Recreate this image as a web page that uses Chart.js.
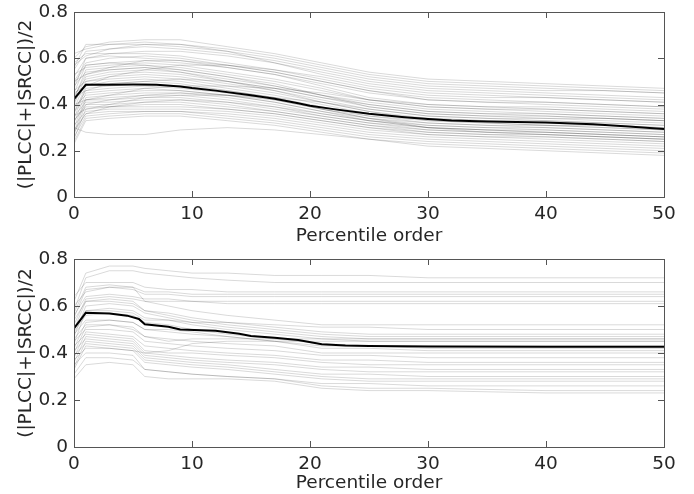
<!DOCTYPE html>
<html>
<head>
<meta charset="UTF-8">
<title>Percentile order</title>
<style>
  body { margin: 0; background: #fff; }
  canvas { display: block; }
</style>
</head>
<body>
<canvas id="top" width="694" height="247"></canvas>
<canvas id="bottom" width="694" height="247"></canvas>
<script src="https://cdn.jsdelivr.net/npm/chart.js"></script>
<script>
const xTop = [0, 1, 3, 6, 9, 13, 17, 21, 25, 30, 35, 40, 45, 50];
const curvesTop = [
  [0.60,0.65,0.67,0.68,0.68,0.65,0.62,0.58,0.54,0.51,0.50,0.49,0.48,0.47],
  [0.62,0.64,0.66,0.67,0.66,0.64,0.61,0.57,0.53,0.50,0.49,0.48,0.47,0.46],
  [0.55,0.63,0.64,0.65,0.64,0.62,0.59,0.55,0.51,0.48,0.47,0.46,0.46,0.45],
  [0.52,0.60,0.62,0.63,0.63,0.61,0.58,0.54,0.50,0.47,0.46,0.45,0.44,0.43],
  [0.58,0.62,0.62,0.62,0.61,0.58,0.55,0.51,0.47,0.44,0.43,0.43,0.42,0.41],
  [0.50,0.58,0.60,0.61,0.60,0.57,0.54,0.50,0.46,0.43,0.42,0.41,0.40,0.39],
  [0.47,0.60,0.61,0.60,0.59,0.56,0.53,0.49,0.45,0.42,0.41,0.40,0.39,0.38],
  [0.45,0.57,0.58,0.59,0.58,0.56,0.53,0.48,0.43,0.40,0.39,0.39,0.38,0.37],
  [0.53,0.56,0.57,0.58,0.57,0.54,0.51,0.47,0.42,0.39,0.38,0.38,0.37,0.36],
  [0.42,0.55,0.56,0.57,0.56,0.53,0.50,0.46,0.42,0.39,0.38,0.37,0.36,0.35],
  [0.48,0.54,0.55,0.56,0.55,0.52,0.49,0.44,0.40,0.37,0.36,0.36,0.35,0.34],
  [0.40,0.52,0.54,0.55,0.54,0.51,0.48,0.44,0.39,0.36,0.35,0.35,0.34,0.33],
  [0.44,0.51,0.53,0.54,0.53,0.50,0.47,0.43,0.39,0.36,0.35,0.34,0.34,0.33],
  [0.38,0.50,0.52,0.53,0.52,0.49,0.46,0.42,0.38,0.35,0.34,0.34,0.33,0.32],
  [0.46,0.50,0.51,0.52,0.51,0.48,0.45,0.41,0.37,0.34,0.33,0.33,0.32,0.31],
  [0.36,0.48,0.50,0.51,0.50,0.47,0.44,0.40,0.36,0.34,0.33,0.32,0.31,0.30],
  [0.41,0.49,0.49,0.50,0.49,0.46,0.43,0.39,0.35,0.33,0.32,0.31,0.31,0.30],
  [0.34,0.47,0.48,0.49,0.48,0.46,0.43,0.38,0.35,0.32,0.31,0.31,0.30,0.29],
  [0.43,0.46,0.47,0.48,0.47,0.45,0.42,0.38,0.34,0.32,0.31,0.30,0.29,0.28],
  [0.32,0.45,0.46,0.47,0.46,0.44,0.41,0.37,0.34,0.31,0.30,0.30,0.29,0.28],
  [0.39,0.44,0.45,0.46,0.46,0.44,0.41,0.37,0.33,0.31,0.30,0.29,0.28,0.27],
  [0.30,0.43,0.44,0.45,0.45,0.43,0.40,0.36,0.33,0.30,0.29,0.29,0.28,0.27],
  [0.37,0.42,0.43,0.44,0.44,0.42,0.39,0.35,0.32,0.30,0.29,0.28,0.27,0.26],
  [0.28,0.42,0.42,0.43,0.43,0.41,0.38,0.35,0.32,0.29,0.28,0.28,0.27,0.26],
  [0.35,0.41,0.41,0.42,0.42,0.40,0.37,0.34,0.31,0.29,0.28,0.27,0.26,0.25],
  [0.27,0.40,0.40,0.41,0.41,0.39,0.37,0.34,0.31,0.28,0.27,0.27,0.26,0.25],
  [0.33,0.39,0.39,0.40,0.40,0.38,0.36,0.33,0.30,0.28,0.27,0.26,0.25,0.24],
  [0.25,0.38,0.39,0.39,0.39,0.38,0.36,0.33,0.30,0.27,0.26,0.26,0.25,0.24],
  [0.31,0.37,0.38,0.38,0.38,0.37,0.35,0.32,0.29,0.27,0.26,0.25,0.24,0.23],
  [0.29,0.36,0.37,0.37,0.37,0.36,0.34,0.31,0.28,0.26,0.25,0.24,0.23,0.22],
  [0.26,0.35,0.36,0.37,0.37,0.35,0.33,0.30,0.27,0.25,0.24,0.23,0.22,0.21],
  [0.24,0.34,0.35,0.36,0.36,0.34,0.32,0.29,0.26,0.24,0.23,0.22,0.21,0.20],
  [0.23,0.33,0.34,0.35,0.35,0.33,0.31,0.28,0.25,0.23,0.22,0.21,0.20,0.19],
  [0.30,0.28,0.27,0.27,0.29,0.30,0.29,0.27,0.25,0.22,0.21,0.20,0.19,0.18],
  [0.40,0.42,0.44,0.47,0.48,0.48,0.47,0.45,0.42,0.40,0.39,0.38,0.37,0.36],
  [0.45,0.48,0.52,0.55,0.57,0.57,0.55,0.52,0.48,0.45,0.44,0.43,0.42,0.41],
  [0.56,0.66,0.66,0.66,0.65,0.63,0.60,0.56,0.52,0.49,0.48,0.47,0.46,0.45],
  [0.35,0.38,0.40,0.43,0.44,0.44,0.43,0.41,0.38,0.35,0.34,0.33,0.32,0.31],
  [0.50,0.53,0.56,0.59,0.59,0.57,0.54,0.50,0.46,0.42,0.41,0.41,0.40,0.39],
  [0.33,0.40,0.42,0.44,0.45,0.44,0.42,0.38,0.34,0.30,0.28,0.27,0.26,0.25],
  [0.57,0.61,0.64,0.66,0.66,0.63,0.58,0.53,0.49,0.46,0.45,0.44,0.43,0.42],
  [0.37,0.46,0.49,0.50,0.51,0.50,0.47,0.43,0.40,0.37,0.36,0.35,0.34,0.33],
  [0.28,0.36,0.39,0.41,0.42,0.41,0.39,0.36,0.33,0.30,0.29,0.28,0.27,0.26],
  [0.49,0.57,0.58,0.57,0.55,0.52,0.48,0.44,0.41,0.38,0.37,0.36,0.35,0.34],
  [0.43,0.53,0.55,0.56,0.54,0.50,0.46,0.41,0.37,0.33,0.32,0.31,0.30,0.29]
];
const meanXTop = [0, 1, 3, 5, 7, 9, 10, 12, 15, 17, 19, 20, 22, 25, 28, 30, 32, 35, 40, 44, 47, 50];
const meanTop  = [0.423,0.485,0.485,0.486,0.485,0.478,0.471,0.46,0.44,0.425,0.405,0.395,0.38,0.36,0.345,0.337,0.331,0.327,0.322,0.315,0.305,0.294];

const xBottom = [0, 1, 3, 5, 6, 8, 10, 13, 17, 21, 25, 30, 40, 50];
const curvesBottom = [
  [0.62,0.74,0.77,0.77,0.76,0.75,0.74,0.74,0.73,0.73,0.73,0.72,0.72,0.72],
  [0.58,0.72,0.75,0.75,0.74,0.73,0.72,0.71,0.70,0.70,0.70,0.70,0.70,0.70],
  [0.55,0.67,0.68,0.68,0.66,0.66,0.65,0.65,0.65,0.65,0.65,0.65,0.65,0.65],
  [0.60,0.66,0.68,0.67,0.65,0.65,0.64,0.64,0.64,0.64,0.64,0.64,0.64,0.64],
  [0.52,0.63,0.64,0.63,0.62,0.62,0.62,0.61,0.61,0.61,0.61,0.61,0.61,0.61],
  [0.57,0.68,0.69,0.68,0.62,0.60,0.58,0.56,0.54,0.52,0.52,0.52,0.52,0.52],
  [0.50,0.62,0.63,0.62,0.58,0.57,0.55,0.53,0.51,0.49,0.48,0.48,0.48,0.48],
  [0.54,0.62,0.62,0.61,0.58,0.56,0.54,0.52,0.50,0.48,0.47,0.47,0.47,0.47],
  [0.47,0.60,0.61,0.60,0.57,0.55,0.53,0.51,0.49,0.47,0.46,0.46,0.46,0.46],
  [0.44,0.58,0.59,0.58,0.55,0.54,0.52,0.50,0.48,0.46,0.45,0.45,0.45,0.45],
  [0.49,0.56,0.57,0.56,0.53,0.52,0.50,0.48,0.46,0.44,0.43,0.43,0.43,0.43],
  [0.42,0.53,0.54,0.53,0.50,0.50,0.49,0.47,0.45,0.42,0.42,0.41,0.41,0.41],
  [0.40,0.51,0.52,0.50,0.47,0.46,0.45,0.44,0.43,0.40,0.40,0.40,0.40,0.40],
  [0.45,0.50,0.50,0.49,0.45,0.44,0.43,0.42,0.41,0.39,0.39,0.38,0.38,0.38],
  [0.38,0.49,0.48,0.47,0.43,0.42,0.41,0.40,0.39,0.37,0.37,0.36,0.36,0.36],
  [0.43,0.48,0.47,0.46,0.41,0.40,0.40,0.39,0.38,0.36,0.35,0.35,0.35,0.35],
  [0.36,0.47,0.46,0.45,0.40,0.39,0.38,0.37,0.36,0.34,0.34,0.33,0.33,0.33],
  [0.41,0.46,0.45,0.44,0.39,0.38,0.37,0.36,0.35,0.33,0.32,0.32,0.32,0.32],
  [0.34,0.45,0.44,0.43,0.38,0.37,0.36,0.35,0.33,0.31,0.31,0.30,0.30,0.30],
  [0.39,0.44,0.43,0.42,0.37,0.36,0.35,0.34,0.32,0.30,0.29,0.29,0.29,0.29],
  [0.33,0.43,0.42,0.41,0.36,0.35,0.34,0.33,0.31,0.29,0.28,0.28,0.28,0.28],
  [0.29,0.35,0.36,0.35,0.30,0.29,0.29,0.29,0.28,0.25,0.24,0.24,0.23,0.23],
  [0.35,0.40,0.40,0.39,0.33,0.32,0.31,0.30,0.29,0.26,0.25,0.25,0.24,0.24],
  [0.37,0.42,0.42,0.41,0.40,0.41,0.44,0.45,0.45,0.45,0.45,0.45,0.45,0.45],
  [0.46,0.52,0.52,0.51,0.47,0.45,0.46,0.46,0.46,0.46,0.46,0.46,0.46,0.46],
  [0.56,0.64,0.65,0.64,0.63,0.63,0.62,0.62,0.62,0.62,0.62,0.62,0.62,0.62],
  [0.51,0.58,0.58,0.57,0.54,0.54,0.53,0.53,0.52,0.51,0.51,0.50,0.50,0.50],
  [0.48,0.54,0.54,0.53,0.50,0.49,0.48,0.47,0.45,0.43,0.43,0.42,0.42,0.42],
  [0.31,0.38,0.38,0.37,0.33,0.32,0.31,0.30,0.29,0.27,0.27,0.26,0.26,0.26],
  [0.64,0.70,0.70,0.70,0.68,0.67,0.67,0.66,0.66,0.66,0.66,0.66,0.66,0.66]
];
const meanXBottom = [0, 1, 3, 4.5, 5.5, 6, 8, 9, 12, 14, 15, 17, 19, 21, 23, 25, 30, 40, 50];
const meanBottom  = [0.505,0.571,0.568,0.559,0.545,0.522,0.512,0.5,0.495,0.482,0.472,0.465,0.455,0.437,0.432,0.43,0.428,0.427,0.427];

const xTicks = [0, 10, 20, 30, 40, 50];
const yTicks = [0, 0.2, 0.4, 0.6, 0.8];

const FONT = 'DejaVu Sans';
const FSIZE = 18.5;
const TXT = '#262626';

// frame with inward ticks, like the original figure
const framePlugin = {
  id: 'frame',
  afterDatasetsDraw(chart) {
    const { ctx, chartArea: a, scales } = chart;
    ctx.save();
    ctx.strokeStyle = '#555';
    ctx.lineWidth = 1;
    ctx.beginPath();
    xTicks.forEach(v => {
      const px = Math.round(scales.x.getPixelForValue(v)) + 0.5;
      ctx.moveTo(px, a.bottom); ctx.lineTo(px, a.bottom - 6);
      ctx.moveTo(px, a.top); ctx.lineTo(px, a.top + 6);
    });
    yTicks.forEach(v => {
      const py = Math.round(scales.y.getPixelForValue(v)) + 0.5;
      ctx.moveTo(a.left, py); ctx.lineTo(a.left + 6, py);
      ctx.moveTo(a.right, py); ctx.lineTo(a.right - 6, py);
    });
    ctx.stroke();
    ctx.strokeRect(Math.round(a.left) + 0.5, Math.round(a.top) + 0.5,
                   Math.round(a.right - a.left), Math.round(a.bottom - a.top));
    ctx.restore();
  }
};

function makeChart(id, xs, curves, mx, my, xAxisHeight) {
  const datasets = curves.map(c => ({
    data: c.map((v, i) => ({ x: xs[i], y: v })),
    borderColor: 'rgba(0,0,0,0.15)',
    borderWidth: 1,
    pointRadius: 0,
    tension: 0
  }));
  datasets.push({
    data: my.map((v, i) => ({ x: mx[i], y: v })),
    borderColor: '#000',
    borderWidth: 2,
    pointRadius: 0,
    tension: 0
  });

  new Chart(document.getElementById(id), {
    type: 'line',
    data: { datasets },
    options: {
      responsive: false,
      animation: false,
      layout: { padding: { top: 12, right: 30, bottom: 0, left: 9 } },
      plugins: { legend: { display: false }, tooltip: { enabled: false } },
      scales: {
        x: {
          type: 'linear',
          min: 0, max: 50,
          afterBuildTicks: s => { s.ticks = xTicks.map(v => ({ value: v })); },
          afterFit: s => { s.height = xAxisHeight; },
          grid: { display: false, drawTicks: false },
          border: { display: false },
          ticks: { color: TXT, font: { family: FONT, size: FSIZE }, padding: 6, maxRotation: 0 },
          title: { display: true, text: 'Percentile order', color: TXT,
                   font: { family: FONT, size: FSIZE }, padding: 0 }
        },
        y: {
          min: 0, max: 0.8,
          afterBuildTicks: s => { s.ticks = yTicks.map(v => ({ value: v })); },
          afterFit: s => { s.width = 65; },
          grid: { display: false, drawTicks: false },
          border: { display: false },
          ticks: { color: TXT, font: { family: FONT, size: FSIZE, lineHeight: 0.6 }, padding: 6,
                   callback: v => v === 0 ? '0' : v.toFixed(1) },
          title: { display: true, text: '(|PLCC|+|SRCC|)/2', color: TXT,
                   font: { family: FONT, size: FSIZE }, padding: { top: 6, bottom: 0 } }
        }
      }
    },
    plugins: [framePlugin]
  });
}

makeChart('top', xTop, curvesTop, meanXTop, meanTop, 50);
makeChart('bottom', xBottom, curvesBottom, meanXBottom, meanBottom, 47);
</script>
</body>
</html>
